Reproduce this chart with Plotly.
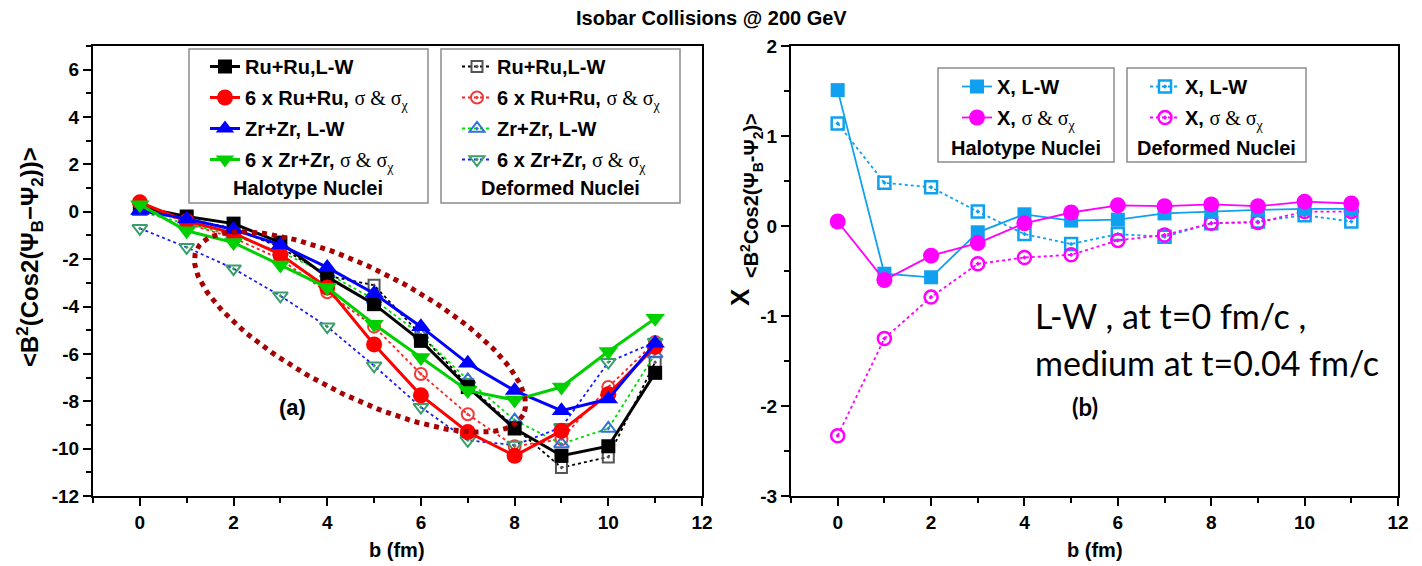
import numpy as np
import plotly.graph_objects as go

# page body adds an 8px margin, so the figure sits at (8, 8) in the window
OFF = 8
W, H = 1422 - OFF, 566 - OFF

# impact parameter b (fm)
b = list(range(12))

# left panel: <B^2 cos2(psi_B - psi_2)>, halotype nuclei
ru_lw = [0.2, -0.2, -0.5, -1.3, -2.75, -3.9, -5.45, -7.4, -9.15, -10.3, -9.9, -6.8]
ru_sig6 = [0.4, -0.4, -0.9, -1.8, -3.2, -5.6, -7.75, -9.3, -10.3, -9.25, -7.7, -5.7]
zr_lw = [0.05, -0.3, -0.75, -1.4, -2.35, -3.45, -4.85, -6.4, -7.55, -8.4, -7.9, -5.55]
zr_sig6 = [0.3, -0.8, -1.3, -2.25, -3.2, -4.75, -6.15, -7.55, -7.95, -7.4, -5.9, -4.5]

# left panel, deformed nuclei
ru_lw_d = [0.2, -0.3, -0.7, -1.5, -2.7, -3.1, -5.2, -7.3, -9.1, -10.8, -10.35, -6.35]
ru_sig6_d = [0.4, -0.5, -1.1, -2.0, -3.4, -4.85, -6.85, -8.55, -9.9, -9.6, -7.4, -5.5]
zr_lw_d = [0.0, -0.5, -1.0, -1.7, -2.6, -3.7, -5.2, -7.1, -8.8, -9.8, -9.15, -6.0]
zr_sig6_d = [-0.7, -1.5, -2.4, -3.55, -4.85, -6.5, -8.25, -9.65, -9.85, -9.1, -6.35, -5.5]

# right panel: X ratio
x_lw = [1.51, -0.53, -0.57, -0.07, 0.13, 0.06, 0.07, 0.14, 0.16, 0.18, 0.19, 0.19]
x_sig = [0.05, -0.6, -0.33, -0.19, 0.03, 0.15, 0.23, 0.22, 0.24, 0.22, 0.27, 0.25]
x_lw_d = [1.14, 0.48, 0.43, 0.16, -0.09, -0.2, -0.09, -0.12, 0.03, 0.05, 0.12, 0.05]
x_sig_d = [-2.33, -1.25, -0.79, -0.42, -0.35, -0.32, -0.16, -0.1, 0.03, 0.04, 0.16, 0.16]

# tick labels (plain hyphen minus, as in the original)
yl_ticks = [6, 4, 2, 0, -2, -4, -6, -8, -10, -12]
yr_ticks = [2, 1, 0, -1, -2, -3]
x_ticks = [0, 2, 4, 6, 8, 10, 12]

FONT = 'Liberation Sans'
SIG = ("<span style='font-family:Liberation Serif;font-weight:normal'>"
       "σ &amp; σ<sub>χ</sub></span>")

# plot areas in window pixels
L_X = (93, 702)
R_X = (791, 1398)
P_Y = (46, 496)
XR = [-1, 12]
YL = [-12, 7]
YR = [-3, 2]


def px(x):
    return (x - OFF) / W


def py(y):
    return 1 - (y - OFF) / H


def to_left_data(xp, yp):
    xd = XR[0] + (xp - L_X[0]) / (L_X[1] - L_X[0]) * (XR[1] - XR[0])
    yd = YL[1] - (yp - P_Y[0]) / (P_Y[1] - P_Y[0]) * (YL[1] - YL[0])
    return xd, yd


fig = go.Figure()

# ---- left panel, deformed (dotted, open markers)
left_def = [
    (ru_lw_d, 'Ru+Ru,L-W', '#000000', '#555555', 'square-open-dot', 11),
    (ru_sig6_d, '6 x Ru+Ru, ' + SIG, '#ff2020', '#f03a3a', 'circle-open-dot', 12),
    (zr_lw_d, 'Zr+Zr, L-W', '#00dd00', '#2f72d8', 'triangle-up-open-dot', 13),
    (zr_sig6_d, '6 x Zr+Zr, ' + SIG, '#1a1aff', '#3a9e6a', 'triangle-down-open-dot', 13),
]
for i, (vals, name, lc, mc, sym, sz) in enumerate(left_def):
    fig.add_trace(go.Scatter(
        x=b, y=vals, name=name, mode='lines+markers', legendgroup=f'd{i}',
        line=dict(color=lc, width=1.8, dash='dot'),
        marker=dict(symbol=sym, size=sz, color=mc, line=dict(width=2, color=mc)),
        xaxis='x', yaxis='y', legend='legend2'
    ))

# ---- left panel, halotype (solid, filled markers)
left_halo = [
    (ru_lw, 'Ru+Ru,L-W', '#000000', 'square', 14),
    (ru_sig6, '6 x Ru+Ru, ' + SIG, '#ff0000', 'circle', 16),
    (zr_lw, 'Zr+Zr, L-W', '#0000ff', 'triangle-up', 17),
    (zr_sig6, '6 x Zr+Zr, ' + SIG, '#00d000', 'triangle-down', 17),
]
for i, (vals, name, c, sym, sz) in enumerate(left_halo):
    fig.add_trace(go.Scatter(
        x=b, y=vals, name=name, mode='lines+markers', legendgroup=f'h{i}',
        line=dict(color=c, width=3),
        marker=dict(symbol=sym, size=sz, color=c),
        xaxis='x', yaxis='y', legend='legend'
    ))

# ---- right panel
fig.add_trace(go.Scatter(
    x=b, y=x_lw_d, name='X, L-W', mode='lines+markers', legendgroup='rd0',
    line=dict(color='#10a0f0', width=1.8, dash='dot'),
    marker=dict(symbol='square-open-dot', size=12, color='#10a0f0',
                line=dict(width=2.5, color='#10a0f0')),
    xaxis='x2', yaxis='y2', legend='legend4'
))
fig.add_trace(go.Scatter(
    x=b, y=x_sig_d, name='X, ' + SIG, mode='lines+markers', legendgroup='rd1',
    line=dict(color='#ff00ff', width=1.8, dash='dot'),
    marker=dict(symbol='circle-open-dot', size=13, color='#ff00ff',
                line=dict(width=2.5, color='#ff00ff')),
    xaxis='x2', yaxis='y2', legend='legend4'
))
fig.add_trace(go.Scatter(
    x=b, y=x_lw, name='X, L-W', mode='lines+markers', legendgroup='rh0',
    line=dict(color='#10a0f0', width=1.8),
    marker=dict(symbol='square', size=14, color='#10a0f0'),
    xaxis='x2', yaxis='y2', legend='legend3'
))
fig.add_trace(go.Scatter(
    x=b, y=x_sig, name='X, ' + SIG, mode='lines+markers', legendgroup='rh1',
    line=dict(color='#ff00ff', width=1.8),
    marker=dict(symbol='circle', size=16, color='#ff00ff'),
    xaxis='x2', yaxis='y2', legend='legend3'
))

# dotted ellipse around the left-panel curves
t = np.linspace(0, 2 * np.pi, 200)
cx, cy, ea, eb, th = 360, 332, 183, 63, np.radians(27)
ex = cx + ea * np.cos(t) * np.cos(th) - eb * np.sin(t) * np.sin(th)
ey = cy + ea * np.cos(t) * np.sin(th) + eb * np.sin(t) * np.cos(th)
exd, eyd = to_left_data(ex, ey)
fig.add_trace(go.Scatter(
    x=exd, y=eyd, mode='lines', showlegend=False, hoverinfo='skip',
    line=dict(color='#a80000', width=5, dash='dot'),
    xaxis='x', yaxis='y'
))

axis_common = dict(
    showline=True, linewidth=2, linecolor='black', mirror=True, automargin=False,
    showgrid=False, zeroline=False, ticks='outside', ticklen=8, tickwidth=2,
    tickcolor='black', tickfont=dict(family=FONT, size=19, color='black', weight='bold'),
)
minor = dict(ticklen=5, tickwidth=1.5, ticks='outside', tickcolor='black')

legend_common = dict(
    xanchor='left', yanchor='top', bgcolor='rgba(0,0,0,0)', borderwidth=0,
    font=dict(family=FONT, size=20, color='black', weight='bold'),
    itemwidth=30, tracegroupgap=2, traceorder='grouped',
)

fig.update_layout(
    width=W, height=H,
    margin=dict(l=0, r=0, t=0, b=0, autoexpand=False),
    paper_bgcolor='white', plot_bgcolor='white',
    xaxis=dict(domain=[px(L_X[0]), px(L_X[1])], range=XR, anchor='y',
               tickvals=x_ticks, ticktext=[str(v) for v in x_ticks],
               minor=dict(dtick=1, **minor), **axis_common),
    yaxis=dict(domain=[py(P_Y[1]), py(P_Y[0])], range=YL, anchor='x',
               tickvals=yl_ticks, ticktext=[str(v) for v in yl_ticks],
               minor=dict(dtick=1, **minor), **axis_common),
    xaxis2=dict(domain=[px(R_X[0]), px(R_X[1])], range=XR, anchor='y2',
                tickvals=x_ticks, ticktext=[str(v) for v in x_ticks],
                minor=dict(dtick=1, **minor), **axis_common),
    yaxis2=dict(domain=[py(P_Y[1]), py(P_Y[0])], range=YR, anchor='x2',
                tickvals=yr_ticks, ticktext=[str(v) for v in yr_ticks],
                minor=dict(dtick=0.5, **minor), **axis_common),
    legend=dict(x=px(205), y=py(47), **legend_common),
    legend2=dict(x=px(457), y=py(47), **legend_common),
    legend3=dict(x=px(957), y=py(67), **legend_common),
    legend4=dict(x=px(1145), y=py(67), **legend_common),
    showlegend=True,
)

# legend frames
for x0, x1, y0, y1 in [(189, 428, 49, 203), (441, 680, 49, 203),
                       (938, 1114, 68, 162), (1127, 1306, 68, 162)]:
    fig.add_shape(type='rect', xref='paper', yref='paper',
                  x0=px(x0), x1=px(x1), y0=py(y1), y1=py(y0),
                  line=dict(color='#8c8c8c', width=1.5), fillcolor='white', layer='below')

bold = dict(family=FONT, color='black', weight='bold')
ann = [
    ('Halotype Nuclei', 308, 188, 20, 0),
    ('Deformed Nuclei', 560, 188, 20, 0),
    ('Halotype Nuclei', 1026, 148, 20, 0),
    ('Deformed Nuclei', 1216, 148, 20, 0),
    ('Isobar Collisions @ 200 GeV', 711, 18, 20, 0),
    ('b (fm)', 397, 550, 20, 0),
    ('b (fm)', 1095, 550, 20, 0),
    ('(a)', 292, 407, 22, 0),
    ('&lt;B<sup>2</sup>(Cos2(Ψ<sub>B</sub>−Ψ<sub>2</sub>))&gt;', 30, 257, 24, -90),
    ('X', 740, 297, 26, -90),
    ('&lt;B<sup>2</sup>Cos2(Ψ<sub>B</sub>-Ψ<sub>2</sub>)&gt;', 751, 196, 20, -90),
]
for text, x, y, size, ang in ann:
    fig.add_annotation(text=text, x=px(x), y=py(y), xref='paper', yref='paper',
                       showarrow=False, textangle=ang, xanchor='center', yanchor='middle',
                       font=dict(size=size, **bold))

# right panel notes
fig.add_annotation(text='(b)', x=px(1085), y=py(406), xref='paper', yref='paper',
                   showarrow=False, xanchor='center', yanchor='middle',
                   font=dict(family='Lato', size=24, color='black', weight='bold'))
for text, y in [('L-W , at t=0 fm/c ,', 315), ('medium at t=0.04 fm/c', 362)]:
    fig.add_annotation(text=text, x=px(1033), y=py(y), xref='paper', yref='paper',
                       showarrow=False, xanchor='left', yanchor='middle',
                       font=dict(family='Lato', size=34, color='black'))

fig.write_html('out.html')
